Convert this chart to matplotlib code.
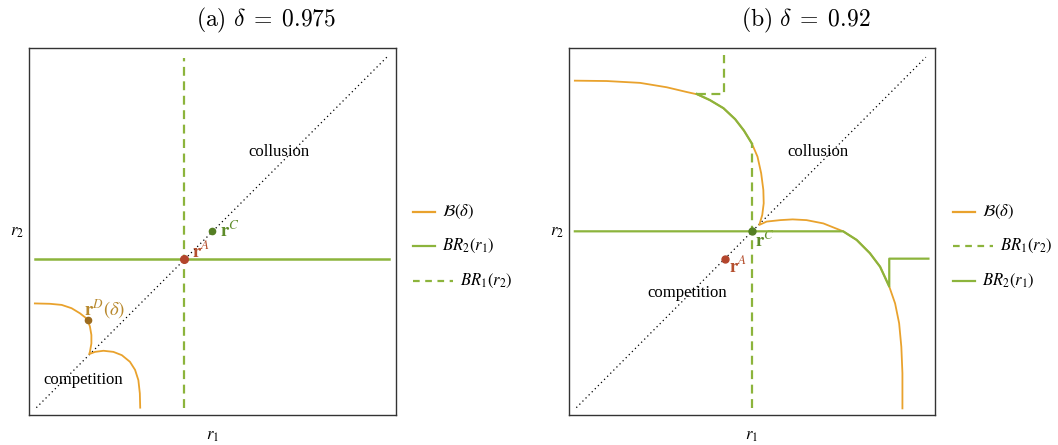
import matplotlib
matplotlib.use("Agg")
import matplotlib.pyplot as plt
from matplotlib.lines import Line2D

plt.rcParams['mathtext.fontset'] = 'stix'
plt.rcParams['font.family'] = ['Liberation Serif', 'DejaVu Serif']

# ---------------- data (axes units 0..1) ----------------
titles = [r'$\mathrm{(a)}\ \delta\;=\;0.975$', r'$\mathrm{(b)}\ \delta\;=\;0.92$']
diag = [0.02, 0.975]

# panel (a)  delta = 0.975
B_a_x = [0.016, 0.057, 0.089, 0.116, 0.139, 0.153, 0.160, 0.166, 0.170, 0.170,
         0.166, 0.164, 0.180, 0.203, 0.230, 0.253, 0.275, 0.289, 0.298, 0.302,
         0.303]
B_a_y = [0.304, 0.303, 0.300, 0.291, 0.277, 0.266, 0.258, 0.241, 0.218, 0.195,
         0.172, 0.166, 0.172, 0.175, 0.172, 0.163, 0.145, 0.123, 0.095, 0.059,
         0.020]
BR1_a_x = [0.423, 0.423]
BR1_a_y = [0.019, 0.972]
BR2_a_x = [0.016, 0.981]
BR2_a_y = [0.426, 0.426]
rA_a = (0.423, 0.426)
rC_a = (0.4995, 0.501)
rD_a = (0.160, 0.258)

# panel (b)  delta = 0.92
B_b_x = [0.016, 0.103, 0.194, 0.267, 0.322, 0.349, 0.385, 0.422, 0.454, 0.478,
         0.4995, 0.515, 0.525, 0.531, 0.532, 0.528, 0.520,
         0.540, 0.577, 0.611, 0.649, 0.695, 0.749, 0.786, 0.822, 0.850, 0.875,
         0.891, 0.902, 0.908, 0.911, 0.911]
B_b_y = [0.911, 0.910, 0.905, 0.893, 0.880, 0.874, 0.858, 0.836, 0.806, 0.775,
         0.740, 0.704, 0.659, 0.613, 0.577, 0.545, 0.518,
         0.527, 0.531, 0.533, 0.531, 0.522, 0.5005, 0.477, 0.441, 0.404, 0.350,
         0.304, 0.250, 0.186, 0.114, 0.018]
# BR1: dashed vertical, along curve (solid), dashed step
BR1_b_x = [0.4995, 0.4995, 0.478, 0.454, 0.422, 0.385, 0.349, 0.423, 0.423]
BR1_b_y = [0.018, 0.740, 0.775, 0.806, 0.836, 0.858, 0.875, 0.875, 0.981]
# BR2: horizontal, along curve, step
BR2_b_x = [0.016, 0.749, 0.786, 0.822, 0.850, 0.875, 0.875, 0.982]
BR2_b_y = [0.5005, 0.5005, 0.477, 0.441, 0.404, 0.350, 0.426, 0.426]
rA_b = (0.425, 0.426)
rC_b = (0.4995, 0.5005)

legend_a = [r'$\mathcal{B}(\delta)$', r'$BR_2(r_1)$', r'$BR_1(r_2)$']
legend_b = [r'$\mathcal{B}(\delta)$', r'$BR_1(r_2)$', r'$BR_2(r_1)$']

# ---------------- style ----------------
ORANGE = '#E9A22D'
GREEN = '#8CB43C'
RED = '#B3452C'
DGREEN = '#557F24'
BROWN = '#9C6B1E'
W, H = 1058, 445
FS = 12
PFS = 13.5

fig = plt.figure(figsize=(W / 100, H / 100), dpi=100)
axA = fig.add_axes([29 / W, 30 / H, 367 / W, 367 / H])
axB = fig.add_axes([569 / W, 30 / H, 366 / W, 367 / H])

for ax in (axA, axB):
    ax.set_xlim(0, 1)
    ax.set_ylim(0, 1)
    ax.set_xticks([])
    ax.set_yticks([])
    for s in ax.spines.values():
        s.set_color('#333333')
        s.set_linewidth(1.0)
    ax.plot(diag, diag, color='black', lw=0.9, ls=(0, (1, 2.5)), zorder=2)
    ax.set_xlabel(r'$r_1$', fontsize=FS, labelpad=9)
    ax.set_ylabel(r'$r_2$', fontsize=FS, rotation=0, labelpad=9, va='center')
    ax.text(0.680, 0.717, 'collusion', fontsize=FS, ha='center', va='center')

dash = (0, (4, 2.5))

# panel (a)
axA.plot(B_a_x, B_a_y, color=ORANGE, lw=1.3, zorder=3, solid_joinstyle='round')
axA.plot(BR2_a_x, BR2_a_y, color=GREEN, lw=1.8, zorder=4)
axA.plot(BR1_a_x, BR1_a_y, color=GREEN, lw=1.6, ls=dash, zorder=4)
axA.plot(*rA_a, 'o', color=RED, ms=5.5, zorder=6)
axA.plot(*rC_a, 'o', color=DGREEN, ms=4.5, zorder=6)
axA.plot(*rD_a, 'o', color=BROWN, ms=4.5, zorder=6)
axA.text(0.443, 0.431, r'$\mathbf{r}^{A}$', color='#B5502F', fontsize=PFS, va='baseline')
axA.text(0.520, 0.486, r'$\mathbf{r}^{C}$', color='#5E8C2A', fontsize=PFS, va='baseline')
axA.text(0.151, 0.272, r'$\mathbf{r}^{D}(\delta)$', color='#B8892E', fontsize=PFS, va='baseline')
axA.text(0.149, 0.095, 'competition', fontsize=FS, ha='center', va='center')

# panel (b)
axB.plot(B_b_x, B_b_y, color=ORANGE, lw=1.3, zorder=3, solid_joinstyle='round')
axB.plot(BR2_b_x, BR2_b_y, color=GREEN, lw=1.6, zorder=4, solid_joinstyle='round')
axB.plot(BR1_b_x[:2], BR1_b_y[:2], color=GREEN, lw=1.6, ls=dash, zorder=4)
axB.plot(BR1_b_x[1:7], BR1_b_y[1:7], color=GREEN, lw=1.6, zorder=4, solid_joinstyle='round')
axB.plot(BR1_b_x[6:], BR1_b_y[6:], color=GREEN, lw=1.6, ls=dash, zorder=4)
axB.plot(*rA_b, 'o', color=RED, ms=5.0, zorder=6)
axB.plot(*rC_b, 'o', color=DGREEN, ms=5.0, zorder=6)
axB.text(0.437, 0.390, r'$\mathbf{r}^{A}$', color='#B5502F', fontsize=PFS, va='baseline')
axB.text(0.5095, 0.4585, r'$\mathbf{r}^{C}$', color='#5E8C2A', fontsize=PFS, va='baseline')
axB.text(0.323, 0.333, 'competition', fontsize=FS, ha='center', va='center')

# titles
fig.text(266 / W, 1 - 20 / H, titles[0], fontsize=17, ha='center', va='center', math_fontfamily='cm')
fig.text(806 / W, 1 - 20 / H, titles[1], fontsize=17, ha='center', va='center', math_fontfamily='cm')


# legends (drawn manually: dashed entries have longer handles)
def legend_entry(x0, y, color, ls, label):
    x1 = x0 + (40 if ls != '-' else 22)
    fig.add_artist(Line2D([x0 / W, x1 / W], [1 - y / H, 1 - y / H], color=color,
                          lw=1.6, ls=ls, transform=fig.transFigure))
    fig.text((x1 + 7) / W, 1 - y / H, label, fontsize=FS, va='center', ha='left')


ys = [211.7, 245.7, 280.5]
legend_entry(413, ys[0], ORANGE, '-', legend_a[0])
legend_entry(413, ys[1], GREEN, '-', legend_a[1])
legend_entry(413, ys[2], GREEN, (0, (3, 2.5)), legend_a[2])
legend_entry(953, ys[0], ORANGE, '-', legend_b[0])
legend_entry(953, ys[1], GREEN, (0, (3, 2.5)), legend_b[1])
legend_entry(953, ys[2], GREEN, '-', legend_b[2])

fig.savefig('out.png', dpi=100)
